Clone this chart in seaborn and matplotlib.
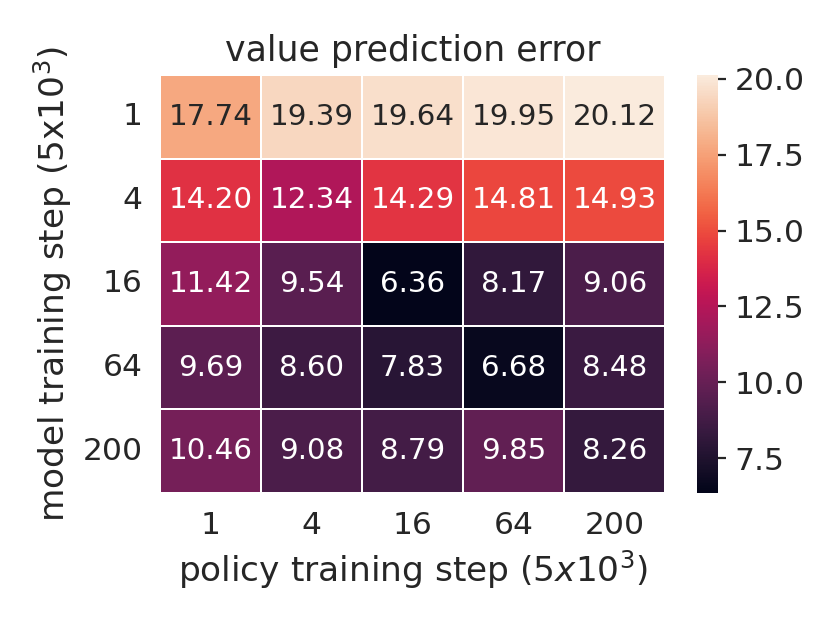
import numpy as np
import pandas as pd
import matplotlib
matplotlib.use("Agg")
import matplotlib.pyplot as plt
import seaborn as sns

model_steps = ["1", "4", "16", "64", "200"]
policy_steps = ["1", "4", "16", "64", "200"]
errors = [
    [17.74, 19.39, 19.64, 19.95, 20.12],
    [14.20, 12.34, 14.29, 14.81, 14.93],
    [11.42, 9.54, 6.36, 8.17, 9.06],
    [9.69, 8.60, 7.83, 6.68, 8.48],
    [10.46, 9.08, 8.79, 9.85, 8.26],
]

sns.set_theme(style="white", context="notebook")

df = pd.DataFrame(errors, index=model_steps, columns=policy_steps)

fig = plt.figure(figsize=(8.3 / 2, 6.23 / 2), dpi=200)
ax = fig.add_axes([160 / 830, 1 - 493 / 623, (665 - 160) / 830, (493 - 75) / 623])
cax = fig.add_axes([697 / 830, 1 - 493 / 623, (718 - 697) / 830, (493 - 75) / 623])

sns.heatmap(df, annot=True, fmt=".2f", linewidths=0.6, linecolor="white",
            annot_kws={"size": 10.6}, ax=ax, cbar_ax=cax)
ax.set_title("value prediction error", fontsize=12.5, pad=5)
ax.set_xlabel("policy training step ($5x10^3$)", fontsize=12.4, labelpad=3)
ax.set_ylabel("model training step (5x10$^3$)", fontsize=12.4, labelpad=3)
ax.tick_params(axis="y", rotation=0)
ax.tick_params(axis="both", length=0, pad=6.3, labelsize=11.3)
cax.tick_params(axis="y", length=3, width=0.8, right=True, labelsize=11.3, pad=3)
cax.set_yticks([7.5, 10.0, 12.5, 15.0, 17.5, 20.0])
cax.set_yticklabels(["7.5", "10.0", "12.5", "15.0", "17.5", "20.0"])

fig.savefig("out.png", dpi=200)
